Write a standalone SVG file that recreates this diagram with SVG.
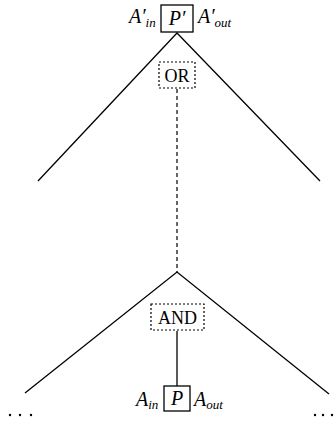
<svg xmlns="http://www.w3.org/2000/svg" width="334" height="427" viewBox="0 0 334 427">
<style>
.ln{stroke:#000;stroke-width:1.3;fill:none}
.dash{stroke:#000;stroke-width:1.2;stroke-dasharray:4,3;fill:none}
.dotbox{stroke:#000;stroke-width:1.2;stroke-dasharray:2,2;fill:#fff}
.box{stroke:#000;stroke-width:1.3;fill:#fff}
.it{font-family:"Liberation Serif",serif;font-style:italic;font-size:20px;fill:#000}
.sub{font-family:"Liberation Serif",serif;font-style:italic;font-size:13px;fill:#000}
.rm{font-family:"Liberation Serif",serif;font-size:18px;fill:#000}
.dot{fill:#000}
</style>
<rect width="334" height="427" fill="#fff"/>
<g id="connectors">
<path class="ln" d="M38,181 L177,33 L320,181"/>
<path class="dash" d="M177,89 L177,272"/>
<path class="ln" d="M25,393 L177,272 L329,394"/>
<path class="ln" d="M177,331 L177,386"/>
</g>
<g id="Ptop">
<rect class="box" x="161" y="5" width="32" height="27"/>
<text class="it" x="177" y="25" text-anchor="middle">P′</text>
<text class="it" x="129" y="23">A′<tspan class="sub" dy="4">in</tspan></text>
<text class="it" x="198" y="23">A′<tspan class="sub" dy="4">out</tspan></text>
</g>
<g id="or">
<rect class="dotbox" x="159" y="62" width="36" height="26"/>
<text class="rm" x="177" y="81.5" text-anchor="middle">OR</text>
</g>
<g id="and">
<rect class="dotbox" x="151" y="304" width="53" height="26"/>
<text class="rm" x="177.5" y="323.5" text-anchor="middle">AND</text>
</g>
<g id="Pbot">
<rect class="box" x="164" y="386" width="26" height="25"/>
<text class="it" x="177" y="405" text-anchor="middle">P</text>
<text class="it" x="136" y="406">A<tspan class="sub" dy="3">in</tspan></text>
<text class="it" x="194" y="406">A<tspan class="sub" dy="3">out</tspan></text>
</g>
<g id="dotsL"><circle class="dot" cx="10" cy="415" r="1.2"/><circle class="dot" cx="20" cy="415" r="1.2"/><circle class="dot" cx="31" cy="415" r="1.2"/></g>
<g id="dotsR"><circle class="dot" cx="315" cy="415" r="1.2"/><circle class="dot" cx="323" cy="415" r="1.2"/><circle class="dot" cx="332" cy="415" r="1.2"/></g>
</svg>
